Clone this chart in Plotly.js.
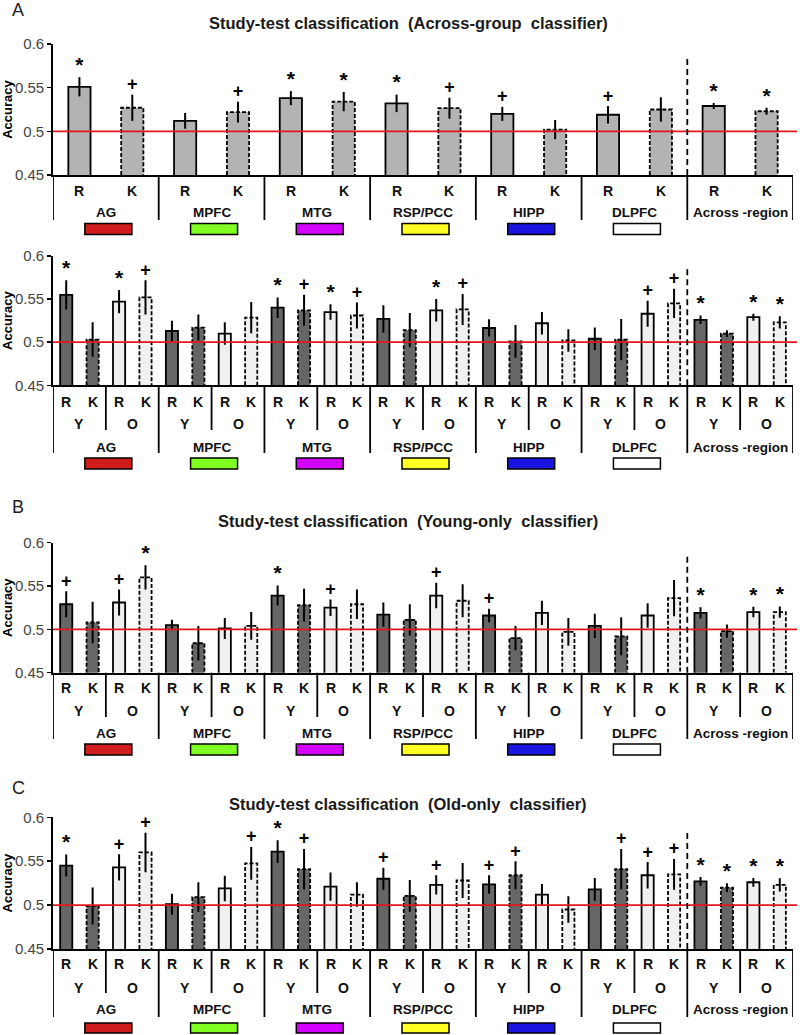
<!DOCTYPE html>
<html><head><meta charset="utf-8">
<script src="https://cdn.plot.ly/plotly-3.0.1.min.js"></script>
<style>html,body{margin:0;padding:0;background:#fff}</style>
</head><body><div id="chart" style="width:800px;height:1035px"></div>
<script>
// ---------- DATA ----------
const regions = ['AG','MPFC','MTG','RSP/PCC','HIPP','DLPFC','Across -region'];
const regionColors = ['#d01c1c','#80ff22','#d400ff','#ffff22','#1a14e0','#ffffff', null];
const memLabels = ['R','K'];
const ageLabels = ['Y','O'];
const panelTitles = ['Study-test classification\u00a0 (Across-group\u00a0 classifier)', '',
  'Study-test classification\u00a0 (Young-only\u00a0 classifier)',
  'Study-test classification\u00a0 (Old-only\u00a0 classifier)'];
const panelLetters = ['A','','B','C'];

// Panel A (across-group classifier, pooled)
const acrossR    = [0.551,0.512,0.538,0.532,0.520,0.519,0.529];
const acrossRErr = [0.011,0.009,0.008,0.010,0.008,0.010,0.0035];
const acrossRSig = ['*','','*','*','+','+','*'];
const acrossK    = [0.527,0.522,0.534,0.5265,0.502,0.525,0.523];
const acrossKErr = [0.015,0.012,0.011,0.012,0.011,0.014,0.004];
const acrossKSig = ['+','+','*','+','','','*'];

// Panel A2 (across-group classifier, split by age)
const splitYR    = [0.555,0.513,0.540,0.527,0.5165,0.504,0.526];
const splitYRErr = [0.017,0.012,0.012,0.016,0.010,0.013,0.005];
const splitYRSig = ['*','','*','','','','*'];
const splitYK    = [0.503,0.517,0.537,0.514,0.501,0.503,0.510];
const splitYKErr = [0.020,0.015,0.018,0.020,0.019,0.024,0.004];
const splitYKSig = ['','','+','','','',''];
const splitOR    = [0.547,0.510,0.535,0.537,0.522,0.533,0.529];
const splitORErr = [0.0135,0.013,0.009,0.013,0.013,0.015,0.004];
const splitORSig = ['*','','*','*','','+','*'];
const splitOK    = [0.552,0.5285,0.531,0.538,0.502,0.545,0.523];
const splitOKErr = [0.020,0.018,0.015,0.018,0.013,0.017,0.007];
const splitOKSig = ['+','','+','+','','+','*'];

// Panel B (young-only classifier)
const youngYR    = [0.529,0.505,0.539,0.517,0.516,0.504,0.519];
const youngYRErr = [0.015,0.006,0.0115,0.014,0.0077,0.014,0.0065];
const youngYRSig = ['+','','*','','+','','*'];
const youngYK    = [0.508,0.484,0.528,0.511,0.490,0.492,0.498];
const youngYKErr = [0.024,0.020,0.019,0.018,0.014,0.022,0.0077];
const youngYKSig = ['','','','','','',''];
const youngOR    = [0.531,0.501,0.525,0.539,0.519,0.516,0.520];
const youngORErr = [0.015,0.012,0.0096,0.0147,0.014,0.014,0.006];
const youngORSig = ['+','','+','+','','','*'];
const youngOK    = [0.560,0.504,0.529,0.533,0.497,0.536,0.520];
const youngOKErr = [0.014,0.016,0.017,0.019,0.016,0.021,0.0065];
const youngOKSig = ['*','','','','','','*'];

// Panel C (old-only classifier)
const oldYR    = [0.545,0.501,0.561,0.530,0.5235,0.518,0.527];
const oldYRErr = [0.0125,0.012,0.013,0.0125,0.0106,0.013,0.005];
const oldYRSig = ['*','','*','+','+','','*'];
const oldYK    = [0.499,0.509,0.541,0.5105,0.534,0.541,0.520];
const oldYKErr = [0.021,0.017,0.023,0.018,0.016,0.023,0.005];
const oldYKSig = ['','','+','','+','+','*'];
const oldOR    = [0.543,0.519,0.521,0.523,0.512,0.534,0.526];
const oldORErr = [0.015,0.0145,0.016,0.011,0.012,0.015,0.005];
const oldORSig = ['+','','','+','','+','*'];
const oldOK    = [0.560,0.5475,0.512,0.528,0.495,0.535,0.523];
const oldOKErr = [0.0225,0.0187,0.014,0.020,0.015,0.0175,0.0075];
const oldOKSig = ['+','+','','','','+','*'];

const yTicks = [0.45,0.5,0.55,0.6];
const yTickText = ['0.45','0.5','0.55','0.6'];
const chance = 0.5;

// ---------- STYLE / GEOMETRY ----------
const W = 800, H = 1035;
const FONT = 'Arial, "Liberation Sans", sans-serif';
const xL = 53, xR = 793;
const py = y => 1 - y / H;
const px = x => x / W;
const colGray = '#b3b3b3', colDark = '#666666', colLight = '#f0f0f0';

// panel geometry in px
const geo = [
  {top:44,  bot:175,   rk:191, ag:null, reg:213, regEnd:220, agEnd:null, sw:[223.5,234.5], title:23,  letter:10},
  {top:256, bot:385.3, rk:402, ag:424,  reg:447, regEnd:453, agEnd:430,  sw:[458,469],     title:null,letter:null},
  {top:542.7,bot:672.7,rk:688, ag:711,  reg:733, regEnd:739, agEnd:717,  sw:[744,755],     title:521, letter:507},
  {top:817.3,bot:949,  rk:964, ag:988,  reg:1009,regEnd:1017,agEnd:993,  sw:[1023,1033],   title:804, letter:788}
];

const traces = [];
const shapes = [];
const annotations = [];
const layout = {
  width: W, height: H, margin:{l:0,r:0,t:0,b:0},
  paper_bgcolor:'#fff', plot_bgcolor:'rgba(0,0,0,0)',
  showlegend:false, bargap:0.5,
  font:{family:FONT, color:'#000'}
};

function addSeries(k, xs, vals, errs, sigs, fill, dashed, width){
  const xa = 'x' + (k ? k+1 : ''), ya = 'y' + (k ? k+1 : '');
  traces.push({type:'bar', x:xs, y:vals, width:width, xaxis:xa, yaxis:ya,
    marker:{color:fill, line:{color:'#000', width: dashed ? 0 : 1.8}},
    error_y:{type:'data', array:errs, visible:true, color:'#000', thickness:2, width:0},
    hoverinfo:'skip'});
  if (dashed){
    const ox = [], oy = [];
    xs.forEach((x,i)=>{ ox.push(x-width/2,x-width/2,x+width/2,x+width/2,null);
      oy.push(yTicks[0],vals[i],vals[i],yTicks[0],null); });
    traces.push({type:'scatter', mode:'lines', x:ox, y:oy, xaxis:xa, yaxis:ya,
      line:{color:'#000', width:1.8, dash:'4px,2px'}, hoverinfo:'skip', cliponaxis:false});
  }
  traces.push({type:'scatter', mode:'text', x:xs, y:vals.map((v,i)=>v+errs[i]),
    text:sigs, textposition:'top center', xaxis:xa, yaxis:ya, cliponaxis:false,
    textfont:{family:FONT, size:sigs.map(s=>s==='*'?21:18), color:'#000', weight:'bold'}, hoverinfo:'skip'});
}

function setupAxes(k, n){
  const g = geo[k];
  const xk = 'xaxis' + (k ? k+1 : ''), yk = 'yaxis' + (k ? k+1 : '');
  const ya = 'y' + (k ? k+1 : ''), xa = 'x' + (k ? k+1 : '');
  layout[xk] = {domain:[px(xL), px(xR)], range:[-0.5, n-0.5], anchor:ya,
    showline:true, linecolor:'#000', linewidth:2, showticklabels:false, ticks:'',
    showgrid:false, zeroline:false, fixedrange:true};
  layout[yk] = {domain:[py(g.bot), py(g.top)], range:[yTicks[0], yTicks[3]], anchor:xa,
    tickvals:yTicks, ticktext:yTickText, ticks:'outside', ticklen:4, tickwidth:1.5, tickcolor:'#000',
    showline:true, linecolor:'#000', linewidth:1.8, showgrid:false, zeroline:false,
    tickfont:{family:FONT, size:15, color:'#444'}, fixedrange:true,
    title:{text:'<b>Accuracy</b>', font:{family:FONT, size:13, color:'#000'}, standoff:2}};
  // chance line
  shapes.push({type:'line', xref:'paper', yref:ya, x0:px(xL), x1:px(797), y0:chance, y1:chance,
    line:{color:'#e3161c', width:1.8}, layer:'above'});
  // dashed separator before across-region
  const sepX = (n/7)*6 - 0.5;
  shapes.push({type:'line', xref:xa, yref:ya, x0:sepX, x1:sepX, y0:yTicks[0], y1:0.586,
    line:{color:'#000', width:1.8, dash:'6px,4px'}});
  // region dividers below axis
  const per = n/7;
  for (let r=0; r<=7; r++){
    const xd = r*per - 0.5;
    shapes.push({type:'line', xref:xa, yref:'paper', x0:xd, x1:xd, y0:py(g.bot), y1:py(g.regEnd),
      line:{color:'#000', width:1.8}});
  }
  // region labels and swatches
  regions.forEach((name, r)=>{
    const xc = r*per + (per-1)/2;
    annotations.push({xref:xa, yref:'paper', x:xc, y:py(g.reg), text:'<b>'+name+'</b>', showarrow:false,
      font:{family:FONT, size:13.5, color:'#111'}, yanchor:'middle', xanchor:'center'});
    if (regionColors[r]){
      const cpx = xL + (r+0.5)*(xR-xL)/7 + 2.5;
      shapes.push({type:'rect', xref:'paper', yref:'paper', x0:px(cpx-23.5), x1:px(cpx+23.5),
        y0:py(g.sw[1]), y1:py(g.sw[0]), fillcolor:regionColors[r], line:{color:'#000', width:1.5}});
    }
  });
  // R/K labels
  for (let i=0; i<n; i++){
    annotations.push({xref:xa, yref:'paper', x:i, y:py(g.rk), text:'<b>'+memLabels[i%2]+'</b>', showarrow:false,
      font:{family:FONT, size:14, color:'#111'}, yanchor:'middle'});
  }
  if (n === 28){
    for (let j=0; j<14; j++){
      annotations.push({xref:xa, yref:'paper', x:2*j+0.5, y:py(g.ag), text:'<b>'+ageLabels[j%2]+'</b>', showarrow:false,
        font:{family:FONT, size:14, color:'#111'}, yanchor:'middle'});
      if (j%2===1){
        const xd = 2*j - 0.5;
        shapes.push({type:'line', xref:xa, yref:'paper', x0:xd, x1:xd, y0:py(g.bot), y1:py(g.agEnd),
          line:{color:'#000', width:1.8}});
      }
    }
  }
  if (panelTitles[k]){
    annotations.push({xref:'paper', yref:'paper', x:px(408), y:py(g.title), text:'<b>'+panelTitles[k]+'</b>',
      showarrow:false, font:{family:FONT, size:16.5, color:'#1a1a1a'}, yanchor:'middle'});
  }
  if (panelLetters[k]){
    annotations.push({xref:'paper', yref:'paper', x:px(10), y:py(g.letter), text:panelLetters[k],
      showarrow:false, font:{family:FONT, size:18, color:'#222'}, yanchor:'middle'});
  }
}

// Panel A
setupAxes(0, 14);
addSeries(0, regions.map((_,r)=>2*r), acrossR, acrossRErr, acrossRSig, colGray, false, 0.42);
addSeries(0, regions.map((_,r)=>2*r+1), acrossK, acrossKErr, acrossKSig, colGray, true, 0.42);

function fourPanel(k, YR,YRe,YRs, YK,YKe,YKs, OR,ORe,ORs, OK,OKe,OKs){
  setupAxes(k, 28);
  const w = 0.46;
  addSeries(k, regions.map((_,r)=>4*r),   YR, YRe, YRs, colDark, false, w);
  addSeries(k, regions.map((_,r)=>4*r+1), YK, YKe, YKs, colDark, true, w);
  addSeries(k, regions.map((_,r)=>4*r+2), OR, ORe, ORs, colLight, false, w);
  addSeries(k, regions.map((_,r)=>4*r+3), OK, OKe, OKs, colLight, true, w);
}
fourPanel(1, splitYR,splitYRErr,splitYRSig, splitYK,splitYKErr,splitYKSig, splitOR,splitORErr,splitORSig, splitOK,splitOKErr,splitOKSig);
fourPanel(2, youngYR,youngYRErr,youngYRSig, youngYK,youngYKErr,youngYKSig, youngOR,youngORErr,youngORSig, youngOK,youngOKErr,youngOKSig);
fourPanel(3, oldYR,oldYRErr,oldYRSig, oldYK,oldYKErr,oldYKSig, oldOR,oldORErr,oldORSig, oldOK,oldOKErr,oldOKSig);

layout.shapes = shapes;
layout.annotations = annotations;
Plotly.newPlot('chart', traces, layout, {staticPlot:true, displayModeBar:false});
</script></body></html>
